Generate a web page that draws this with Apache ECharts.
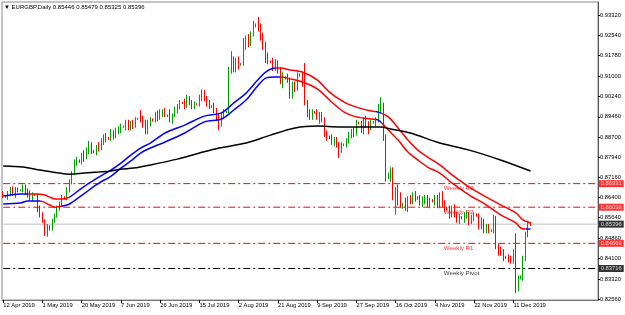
<!DOCTYPE html>
<html><head><meta charset="utf-8">
<script src="https://cdn.jsdelivr.net/npm/echarts@6/dist/echarts.min.js"></script>
<style>html,body{margin:0;padding:0;background:#fff}#c{width:625px;height:315px}</style>
</head><body><div id="c"></div>
<script>
const symbolName = 'EURGBP,Daily';
const xTickLabels = ['12 Apr 2019','1 May 2019','20 May 2019','7 Jun 2019','26 Jun 2019','15 Jul 2019','2 Aug 2019','21 Aug 2019','9 Sep 2019','27 Sep 2019','16 Oct 2019','4 Nov 2019','22 Nov 2019','11 Dec 2019'];
const barsPerTick = 16;
const slotCount = 243;
const yTicks = [0.93320,0.92540,0.91780,0.91000,0.90240,0.89460,0.88700,0.87940,0.87160,0.86400,0.85640,0.84860,0.84100,0.83320,0.82560];

const opens = [.8650,.8645,.8643,.8650,.8668,.8655,.8670,.8668,.8668,.8683,.8660,.8650,.8640,.8652,.8650,.8595,.8572,.8550,.8505,.8530,
.8522,.8555,.8575,.8600,.8615,.8640,.8638,.8670,.8700,.8735,.8775,.8780,.8778,.8800,.8790,.8820,.8845,.8815,.8812,.8830,
.8825,.8855,.8870,.8865,.8862,.8885,.8875,.8895,.8900,.8910,.8908,.8925,.8905,.8920,.8915,.8940,.8938,.8930,.8915,.8890,
.8925,.8935,.8932,.8955,.8945,.8960,.8965,.8950,.8952,.8935,.8950,.8975,.8985,.9000,.8998,.8985,.9015,.8995,.8985,.8995,
.8993,.9020,.9040,.9010,.8995,.8985,.8987,.8970,.8945,.8920,.8950,.8965,.8968,.9125,.9150,.9130,.9155,.9145,.9147,.9230,
.9240,.9225,.9260,.9290,.9295,.9280,.9245,.9210,.9165,.9155,.9152,.9130,.9150,.9120,.9080,.9095,.9092,.9085,.9025,.9065,
.9055,.9105,.9100,.9075,.9000,.8960,.8950,.8965,.8962,.8945,.8955,.8935,.8880,.8870,.8868,.8850,.8860,.8840,.8815,.8840,
.8842,.8855,.8880,.8890,.8880,.8925,.8922,.8900,.8935,.8920,.8905,.8925,.8925,.8935,.8985,.8990,.8865,.8720,.8728,.8740,
.8640,.8665,.8625,.8610,.8615,.8600,.8635,.8630,.8650,.8640,.8638,.8625,.8630,.8640,.8615,.8630,.8628,.8640,.8610,.8655,
.8615,.8600,.8598,.8575,.8600,.8575,.8560,.8565,.8562,.8575,.8580,.8545,.8565,.8575,.8572,.8530,.8550,.8515,.8530,.8515,
.8515,.8565,.8455,.8435,.8430,.8415,.8412,.8405,.8400,.8435,.8300,.8338,.8340,.8410,.8495,.85446];
const highs = [.8665,.8648,.8665,.8680,.8683,.8680,.8678,.8672,.8690,.8690,.8675,.8668,.8660,.8655,.8655,.8610,.8585,.8558,.8540,.8535,
.8560,.8580,.8610,.8625,.8650,.8645,.8680,.8710,.8740,.8785,.8795,.8785,.8810,.8820,.8830,.8855,.8850,.8820,.8840,.8850,
.8865,.8880,.8885,.8870,.8900,.8895,.8905,.8910,.8920,.8913,.8935,.8935,.8930,.8935,.8945,.8943,.8972,.8950,.8935,.8935,
.8945,.8940,.8965,.8970,.8975,.8975,.8980,.8955,.8975,.8960,.8985,.8995,.9010,.9003,.9015,.9030,.9025,.9010,.9005,.8998,
.9030,.9050,.9048,.9025,.9010,.8990,.9000,.8980,.8960,.8960,.8975,.8970,.9135,.9195,.9175,.9170,.9175,.9150,.9245,.9255,
.9260,.9270,.9310,.9300,.9325,.9300,.9265,.9230,.9190,.9160,.9170,.9165,.9160,.9135,.9115,.9100,.9110,.9095,.9080,.9080,
.9115,.9110,.9115,.9150,.9010,.8975,.8975,.8968,.8975,.8965,.8965,.8945,.8895,.8875,.8880,.8870,.8870,.8850,.8850,.8845,
.8865,.8890,.8900,.8905,.8935,.8928,.8930,.8945,.8950,.8930,.8935,.8930,.8945,.8995,.9020,.9000,.8880,.8735,.8755,.8755,
.8680,.8690,.8660,.8620,.8640,.8645,.8650,.8660,.8665,.8645,.8650,.8645,.8650,.8650,.8640,.8635,.8650,.8650,.8660,.8665,
.8630,.8605,.8610,.8610,.8615,.8585,.8580,.8570,.8585,.8590,.8585,.8575,.8585,.8580,.8580,.8565,.8560,.8540,.8540,.8520,
.8575,.8570,.8465,.8455,.8445,.8420,.8425,.8420,.8445,.8505,.8345,.8345,.8420,.8510,.8550,.85479];
const lows = [.8638,.8640,.8632,.8645,.8648,.8640,.8660,.8664,.8660,.8650,.8640,.8630,.8625,.8646,.8585,.8565,.8545,.8495,.8492,.8515,
.8515,.8545,.8565,.8590,.8605,.8632,.8630,.8660,.8690,.8725,.8760,.8772,.8765,.8775,.8785,.8805,.8805,.8808,.8800,.8815,
.8820,.8840,.8850,.8858,.8855,.8860,.8865,.8880,.8885,.8905,.8895,.8895,.8895,.8900,.8905,.8935,.8925,.8905,.8880,.8880,
.8910,.8928,.8925,.8930,.8935,.8945,.8945,.8945,.8925,.8920,.8945,.8960,.8975,.8995,.8975,.8980,.8990,.8975,.8975,.8990,
.8985,.9005,.9005,.8985,.8975,.8980,.8960,.8930,.8895,.8910,.8940,.8960,.8960,.9110,.9115,.9115,.9125,.9140,.9140,.9200,
.9210,.9215,.9250,.9285,.9270,.9235,.9200,.9150,.9145,.9150,.9120,.9120,.9110,.9070,.9055,.9088,.9075,.9015,.9015,.9040,
.9045,.9098,.9060,.8990,.8945,.8935,.8935,.8958,.8935,.8920,.8925,.8870,.8855,.8862,.8840,.8835,.8830,.8790,.8810,.8835,
.8830,.8845,.8865,.8870,.8875,.8918,.8885,.8880,.8905,.8880,.8895,.8920,.8910,.8925,.8960,.8855,.8700,.8710,.8700,.8630,
.8575,.8610,.8600,.8598,.8590,.8585,.8615,.8615,.8625,.8632,.8610,.8605,.8615,.8605,.8600,.8622,.8610,.8600,.8600,.8605,
.8585,.8592,.8560,.8565,.8565,.8545,.8540,.8558,.8545,.8560,.8535,.8540,.8550,.8568,.8520,.8520,.8505,.8505,.8505,.8510,
.8505,.8445,.8420,.8420,.8400,.8408,.8395,.8390,.8390,.8278,.8285,.8330,.8325,.8400,.8490,.85325];
const closes = [.8645,.8643,.8650,.8668,.8655,.8670,.8668,.8668,.8683,.8660,.8650,.8640,.8652,.8650,.8595,.8572,.8550,.8505,.8530,.8522,
.8555,.8575,.8600,.8615,.8640,.8638,.8670,.8700,.8735,.8775,.8780,.8778,.8800,.8790,.8820,.8845,.8815,.8812,.8830,.8825,
.8855,.8870,.8865,.8862,.8885,.8875,.8895,.8900,.8910,.8908,.8925,.8905,.8920,.8915,.8940,.8938,.8930,.8915,.8890,.8925,
.8935,.8932,.8955,.8945,.8960,.8965,.8950,.8952,.8935,.8950,.8975,.8985,.9000,.8998,.8985,.9015,.8995,.8985,.8995,.8993,
.9020,.9040,.9010,.8995,.8985,.8987,.8970,.8945,.8920,.8950,.8965,.8968,.9125,.9150,.9130,.9155,.9145,.9147,.9230,.9240,
.9225,.9260,.9290,.9295,.9280,.9245,.9210,.9165,.9155,.9152,.9130,.9150,.9120,.9080,.9095,.9092,.9085,.9025,.9065,.9050,
.9105,.9102,.9075,.9000,.8960,.8950,.8965,.8962,.8945,.8955,.8935,.8880,.8870,.8868,.8850,.8860,.8840,.8815,.8840,.8842,
.8855,.8880,.8890,.8880,.8925,.8922,.8900,.8935,.8920,.8905,.8925,.8925,.8935,.8985,.8990,.8865,.8720,.8728,.8740,.8640,
.8665,.8625,.8610,.8615,.8600,.8635,.8630,.8650,.8640,.8638,.8625,.8630,.8640,.8615,.8630,.8628,.8640,.8610,.8655,.8615,
.8600,.8598,.8575,.8600,.8575,.8560,.8565,.8562,.8575,.8580,.8545,.8565,.8575,.8572,.8530,.8550,.8515,.8530,.8515,.8515,
.8565,.8455,.8435,.8430,.8415,.8412,.8405,.8400,.8435,.8300,.8338,.8340,.8410,.8495,.8545,.85396];

// moving-average channel: [bar index, price]
const bandUpper = [[0,.8646],[7,.8654],[10,.8654],[13,.8654],[17,.8650],[19,.8642],[21,.8635],[24,.8635],[27,.8642],[31,.8669],[35,.8695],[39,.8718],[44,.8745],[48,.8771],[52,.8801],[56,.8828],[60,.8847],[66,.8885],[74,.8915],[82,.8949],[89,.8961],[94,.8999],[99,.9036],[103,.9078],[107,.9116],[111,.9131],[113,.9131],[117,.9124],[122,.9116],[128,.9086],[133,.9040],[139,.9002],[144,.8983],[150,.8968],[153,.8964],[157,.8946],[161,.8904],[165,.8858],[169,.8820],[173,.8794],[178,.8764],[183,.8726],[190,.8680],[197,.8642],[203,.8612],[209,.8582],[212,.8555],[214,.8548],[215,.8544]];
const bandLower = [[0,.8616],[7,.8620],[10,.8627],[15,.8627],[19,.8612],[21,.8604],[24,.8608],[27,.8616],[31,.8642],[35,.8669],[39,.8695],[44,.8722],[48,.8752],[52,.8779],[56,.8809],[60,.8828],[66,.8851],[74,.8885],[82,.8927],[89,.8938],[94,.8972],[99,.9010],[103,.9055],[107,.9093],[111,.9097],[113,.9097],[117,.9090],[122,.9078],[128,.9052],[133,.9010],[139,.8964],[144,.8946],[150,.8938],[153,.8934],[157,.8896],[161,.8858],[165,.8813],[169,.8783],[173,.8756],[178,.8733],[183,.8695],[190,.8650],[197,.8612],[203,.8574],[209,.8544],[211,.8525],[213,.8521],[215,.8521]];
const ma200 = [[0,.8760],[8,.8756],[15,.8745],[23,.8733],[27,.8729],[33,.8733],[39,.8737],[44,.8741],[48,.8748],[53,.8752],[60,.8764],[71,.8786],[80,.8809],[88,.8828],[99,.8847],[109,.8877],[119,.8904],[128,.8911],[137,.8908],[145,.8908],[154,.8908],[158,.8900],[166,.8885],[178,.8847],[190,.8820],[203,.8782],[215,.8741]];
// colour of each channel line by bar range (blue rising, red falling)
const upperRedRanges = [[10,27],[111,152],[154,215]];
const lowerRedRanges = [[15,24],[113,152],[154,213]];

const weeklyNames = ['Weekly R3','Weekly R2','Weekly R1','Weekly Pivot'];
const weeklyValues = [0.86931, 0.86038, 0.84669, 0.83716];
const weeklyColors = ['#ff0000','#ff0000','#ff0000','#000000'];

const FONT = "'Liberation Sans', Arial, sans-serif";
const FS = 5.8;
const nBars = closes.length;
const last = nBars - 1;
const cats = Array.from({length: slotCount}, (_, i) => String(i));
const candles = closes.map((c, i) => [opens[i], c, lows[i], highs[i]]);
const showTick = (i) => i % barsPerTick === 0 && i < nBars && (i / barsPerTick) < xTickLabels.length;

function pieces(ranges) {
  const p = []; let prev = -1;
  ranges.forEach(([a, b]) => {
    p.push({gt: prev, lte: a, color: '#0000ff'});
    p.push({gt: a, lte: b, color: '#ff0000'});
    prev = b;
  });
  p.push({gt: prev, color: '#0000ff'});
  return p;
}

const levelSeries = [];
const levels = weeklyValues.map((v, k) => ({v, color: weeklyColors[k], box: weeklyColors[k], dash: [7, 3, 2, 3]}));
levels.push({v: closes[last], color: '#c0c0c0', box: '#000000', dash: 'solid'});
levels.forEach(l => {
  levelSeries.push({
    type: 'line', z: 1, silent: true, symbol: 'none',
    data: [[0, l.v], [slotCount - 1, l.v]],
    lineStyle: {color: l.color, width: 1, type: l.dash}
  });
});
// price boxes on the right scale
const boxSeries = {
  type: 'scatter', z: 6, silent: true, symbolSize: 0, clip: false,
  data: levels.map(l => ({value: [slotCount - 1, l.v], label: {backgroundColor: l.box}})),
  label: {show: true, position: 'right', distance: 2, color: '#fff', fontSize: FS, fontFamily: FONT,
    padding: [1, 2, 0, 2], formatter: p => p.value[1].toFixed(5)}
};
const weeklyTextSeries = {
  type: 'scatter', z: 1, silent: true, symbolSize: 0,
  data: weeklyNames.map((n, k) => ({value: [180, weeklyValues[k]], label: {formatter: n, color: weeklyColors[k]}})),
  label: {show: true, position: 'right', distance: 0, offset: [-1, 5], fontSize: FS + 0.4, fontFamily: FONT}
};

const chart = echarts.init(document.getElementById('c'), null, {renderer: 'canvas'});
chart.setOption({
  animation: false,
  backgroundColor: '#fff',
  title: {
    text: '\u25BC ' + symbolName + ' ' + [opens[last], highs[last], lows[last], closes[last]].map(v => v.toFixed(5)).join(' '),
    left: 4, top: 4, padding: 0,
    textStyle: {fontSize: FS + 0.2, fontWeight: 'normal', color: '#000', fontFamily: FONT}
  },
  grid: {left: 2, right: 27, top: 2, bottom: 15, show: true, borderColor: '#8a8a8a', borderWidth: 1},
  xAxis: {
    type: 'category', data: cats, boundaryGap: true,
    axisLine: {show: true, lineStyle: {color: '#777'}},
    axisTick: {show: true, alignWithLabel: true, interval: (i) => showTick(i), length: 3, lineStyle: {color: '#000'}},
    axisLabel: {interval: (i) => showTick(i), formatter: (v, i) => xTickLabels[Math.round(i / barsPerTick)] || '',
      align: 'left', margin: 2, fontSize: FS, color: '#000', fontFamily: FONT, showMinLabel: true, hideOverlap: false},
    splitLine: {show: false}
  },
  yAxis: {
    type: 'value', position: 'right', min: 0.82522, max: 0.93813,
    axisLine: {show: true, lineStyle: {color: '#555'}},
    axisTick: {show: true, customValues: yTicks, length: 2, lineStyle: {color: '#000'}},
    axisLabel: {customValues: yTicks, formatter: v => v.toFixed(5), margin: 2, fontSize: FS, color: '#000', fontFamily: FONT},
    splitLine: {show: false}
  },
  visualMap: [
    {type: 'piecewise', show: false, dimension: 0, seriesIndex: 1, pieces: pieces(upperRedRanges)},
    {type: 'piecewise', show: false, dimension: 0, seriesIndex: 2, pieces: pieces(lowerRedRanges)}
  ],
  series: [
    {
      type: 'candlestick', z: 3, data: candles, barWidth: 1,
      itemStyle: {color: '#00a000', color0: '#ff0000', borderColor: '#00a000', borderColor0: '#ff0000', borderWidth: 1}
    },
    {type: 'line', z: 4, data: bandUpper, showSymbol: false, smooth: 0.3, lineStyle: {width: 1.5}},
    {type: 'line', z: 4, data: bandLower, showSymbol: false, smooth: 0.3, lineStyle: {width: 1.5}},
    {type: 'line', z: 4, data: ma200, showSymbol: false, smooth: 0.3, lineStyle: {width: 1.5, color: '#000'}, itemStyle: {color: '#000'}},
    weeklyTextSeries,
    boxSeries
  ].concat(levelSeries)
});
</script></body></html>
